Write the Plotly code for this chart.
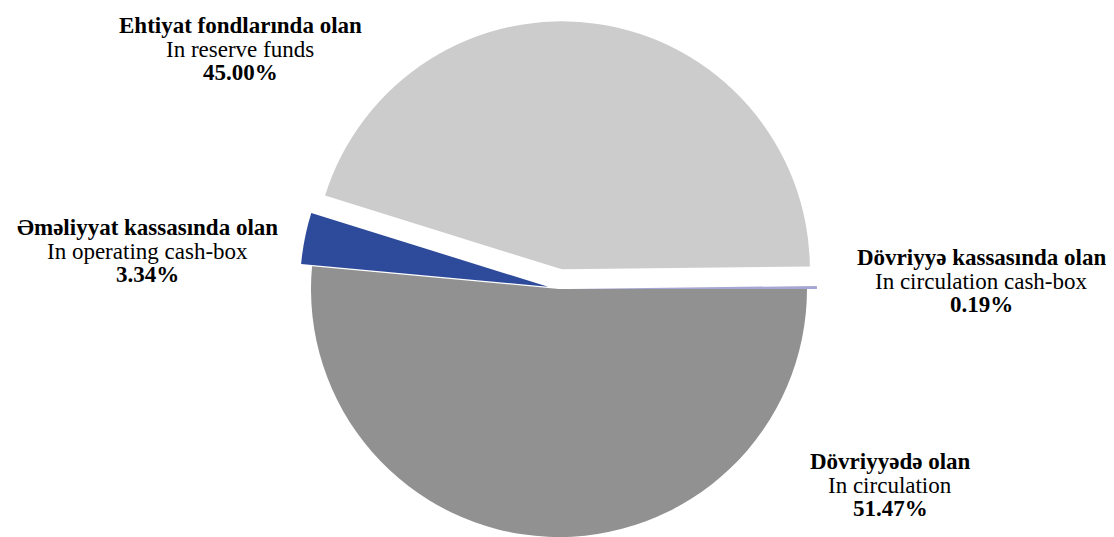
import math
import plotly.graph_objects as go

# ---- data ----
labels_az = ["Dövriyyədə olan", "Əməliyyat kassasında olan",
             "Ehtiyat fondlarında olan", "Dövriyyə kassasında olan"]
labels_en = ["In circulation", "In operating cash-box",
             "In reserve funds", "In circulation cash-box"]
values = [51.47, 3.34, 45.00, 0.19]

# ---- style ----
colors = ["#919191", "#2e4a9a", "#cccccc", "#a6a6d2"]
pulls = [0.0, 0.045, 0.08, 0.04]
OFF = 8  # page body margin
# label centre x and first-line baseline y (reference pixels)
label_px = [(890, 469), (147, 235), (240, 33), (981, 265)]
LINE_GAP = 23.7
FS = 23

W, H = 1106, 529
cx, cy, r = 559 - OFF, 289 - OFF, 248
FONT = "'Liberation Serif', 'Times New Roman', Times, serif"

total = sum(values)
fig = go.Figure()
start = 0.0
for i, v in enumerate(values):
    frac = v / total
    mid = math.radians((start + frac / 2) * 360)  # clockwise from 3 o'clock
    dx = pulls[i] * r * math.cos(mid)
    dy = pulls[i] * r * math.sin(mid)  # screen y grows downward
    pcx, pcy = cx + dx, cy + dy
    dom_x = [max(0, (pcx - r) / W), min(1, (pcx + r) / W)]
    dom_y = [max(0, 1 - (pcy + r) / H), min(1, 1 - (pcy - r) / H)]
    cols = [colors[j] if j == i else "rgba(0,0,0,0)" for j in range(len(values))]
    fig.add_trace(go.Pie(
        labels=labels_en, values=values, sort=False, direction="clockwise",
        rotation=90, marker=dict(colors=cols, line=dict(width=0)),
        textinfo="none", hoverinfo="label+percent",
        domain=dict(x=dom_x, y=dom_y), showlegend=False,
    ))
    start += frac

for i in range(len(values)):
    x, y0 = label_px[i]
    lines = [f"<b>{labels_az[i]}</b>", labels_en[i], f"<b>{values[i]:.2f}%</b>"]
    for k, t in enumerate(lines):
        yc = y0 + k * LINE_GAP - 0.33 * FS  # visual centre of the line
        fig.add_annotation(
            x=(x - OFF) / W, y=1 - (yc - OFF) / H, xref="paper", yref="paper",
            xanchor="center", yanchor="middle", showarrow=False,
            text=t, font=dict(family=FONT, size=FS, color="#000000"),
            align="center",
        )

fig.update_layout(
    width=W, height=H, margin=dict(l=0, r=0, t=0, b=0),
    paper_bgcolor="white", plot_bgcolor="white", showlegend=False,
    font=dict(family=FONT),
)
fig.write_html("out.html")
